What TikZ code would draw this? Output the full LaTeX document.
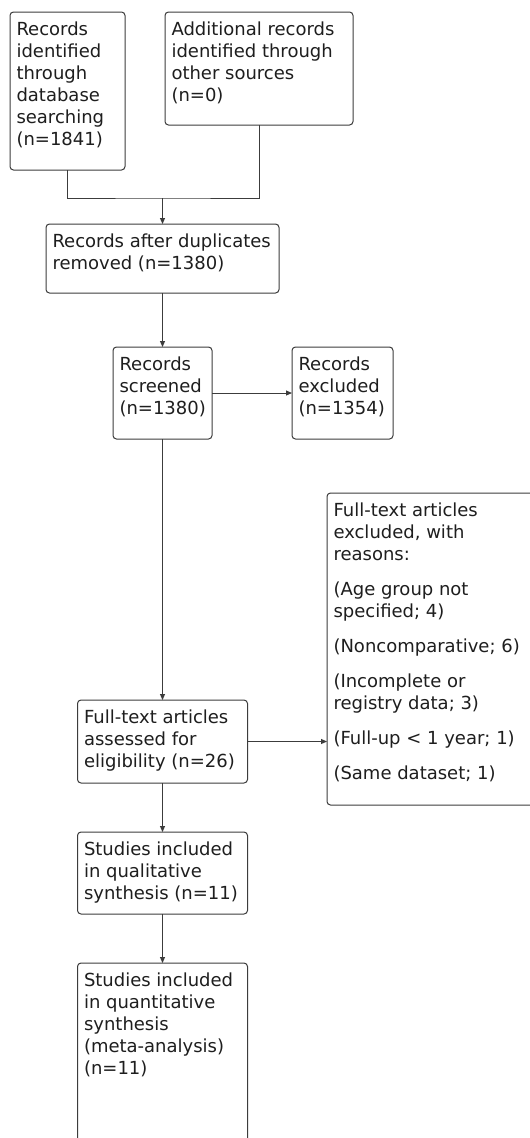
\documentclass[tikz,border=0pt]{standalone}
\usepackage{fontspec}
\setmainfont{DejaVu Sans}
\usetikzlibrary{arrows.meta}
\definecolor{boxc}{HTML}{3C3C3C}
\definecolor{txtc}{HTML}{1E1E1E}
\tikzset{
  box/.style={draw=boxc, line width=1pt, rounded corners=3.5pt, fill=white, anchor=north west, inner sep=0pt, outer sep=0pt},
  txt/.style={anchor=north west, inner sep=0pt, outer sep=0pt, align=left, font=\fontsize{18}{22}\selectfont, text=txtc, xshift=6.5pt, yshift=-10pt},
  conn/.style={draw=boxc, line width=1pt},
  arr/.style={conn, -{Triangle[length=6pt,width=5pt]}}
}
\begin{document}
\begin{tikzpicture}[x=1pt,y=-1pt]
\useasboundingbox (0,0) rectangle (530,1138);
\clip (0,0) rectangle (530,1138);
\fill[white] (0,0) rectangle (530,1138);
% boxes
\node[box, minimum width=115pt, minimum height=158pt] (A) at (10,12) {};
\node[box, minimum width=188pt, minimum height=113pt] (B) at (165,12) {};
\node[box, minimum width=233pt, minimum height=69pt] (C) at (46,224) {};
\node[box, minimum width=99pt, minimum height=92pt] (D) at (113,347) {};
\node[box, minimum width=101pt, minimum height=92pt] (E) at (292,347) {};
\node[box, minimum width=170pt, minimum height=83pt] (F) at (77.5,700) {};
\node[box, minimum width=210pt, minimum height=312pt] (G) at (327,493) {};
\node[box, minimum width=170pt, minimum height=82pt] (H) at (77.5,832) {};
\node[box, minimum width=170pt, minimum height=200pt] (I) at (77.5,963) {};
% texts
\node[txt] (At) at (A.north west) {Records\\identified\\through\\database\\searching\\(n=1841)};
\node[txt] (Bt) at (B.north west) {Additional records\\identified through\\other sources\\(n=0)};
\node[txt] (Ct) at (C.north west) {Records after duplicates\\removed (n=1380)};
\node[txt] (Dt) at (D.north west) {Records\\screened\\(n=1380)};
\node[txt] (Et) at (E.north west) {Records\\excluded\\(n=1354)};
\node[txt] (Ft) at (F.north west) {Full-text articles\\assessed for\\eligibility (n=26)};
\node[txt] (Gt) at (G.north west) {Full-text articles\\excluded, with\\reasons:\\[13pt](Age group not\\specified; 4)\\[13pt](Noncomparative; 6)\\[13pt](Incomplete or\\registry data; 3)\\[13pt](Full-up < 1 year; 1)\\[13pt](Same dataset; 1)};
\node[txt] (Ht) at (H.north west) {Studies included\\in qualitative\\synthesis (n=11)};
\node[txt] (It) at (I.north west) {Studies included\\in quantitative\\synthesis\\(meta-analysis)\\(n=11)};
% connectors
\coordinate (j) at (C.north |- 0,198);
\draw[conn] (A.south) |- (j) -| (B.south);
\draw[arr] (j) -- (C.north);
\draw[arr] (C.south) -- (D.north);
\draw[arr] (D.east) -- (E.west);
\draw[arr] (D.south) -- (F.north);
\draw[arr] (F.east) -- (F.east -| G.west);
\draw[arr] (F.south) -- (H.north);
\draw[arr] (H.south) -- (I.north);
\end{tikzpicture}
\end{document}
